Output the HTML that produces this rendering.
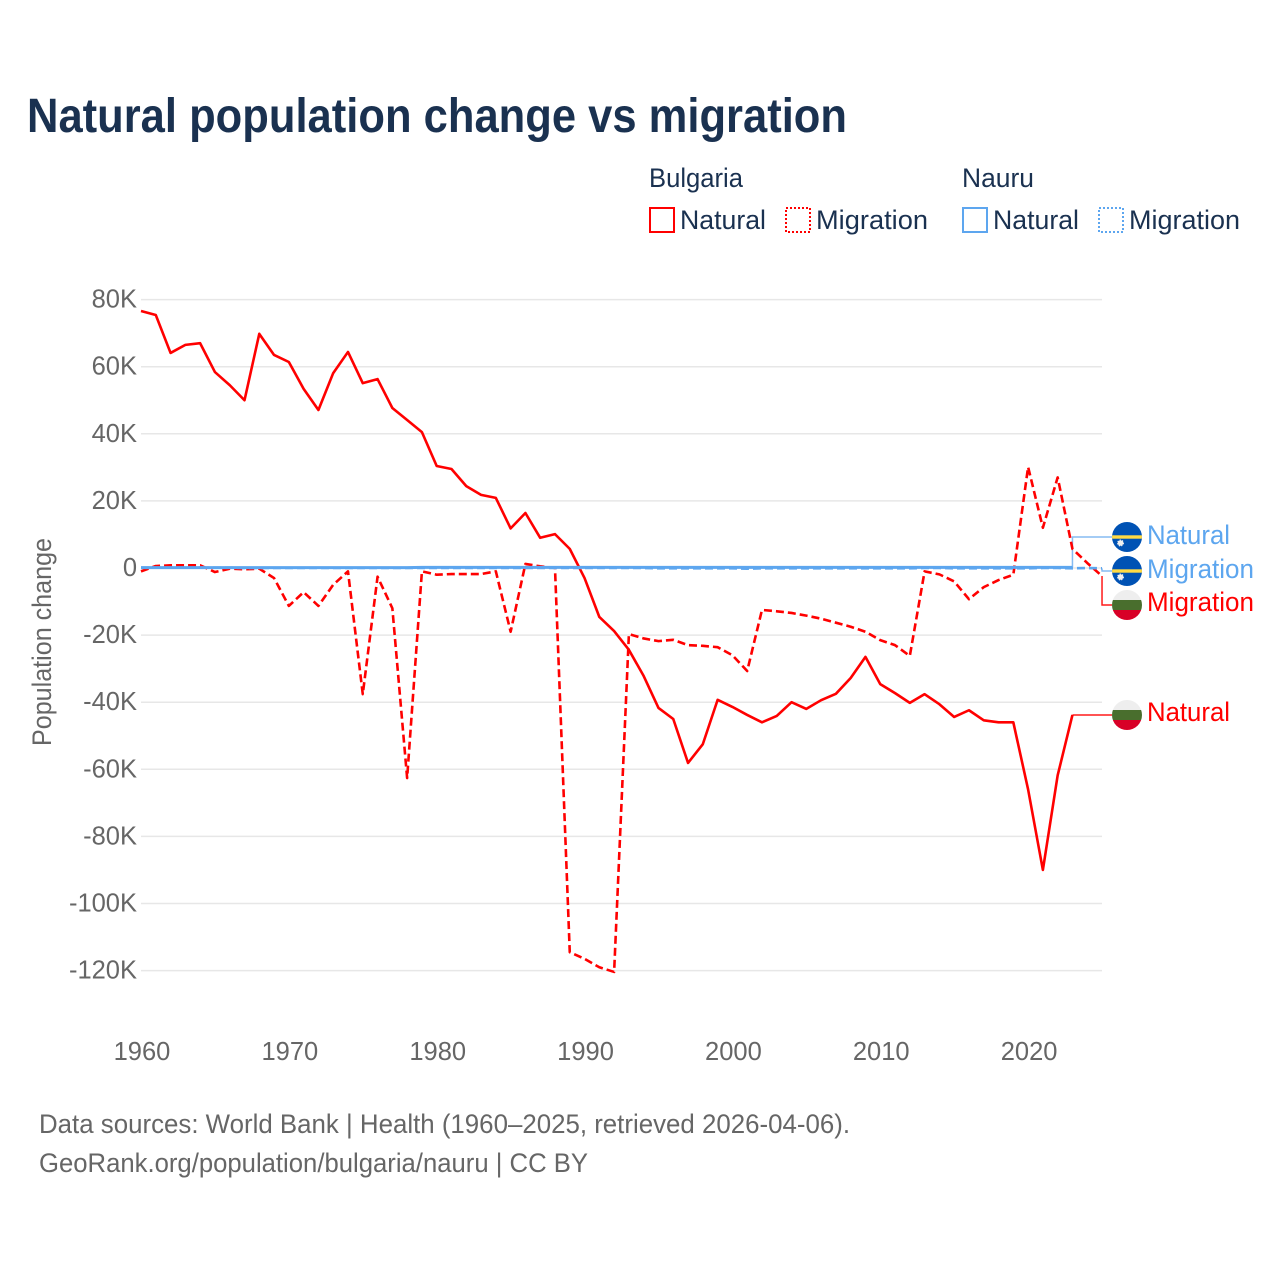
<!DOCTYPE html>
<html lang="en">
<head>
<meta charset="utf-8">
<title>Natural population change vs migration</title>
<style>
html,body{margin:0;padding:0;background:#fff;width:1280px;height:1280px;overflow:hidden}
svg{display:block;font-family:"Liberation Sans",sans-serif}
</style>
</head>
<body>
<svg id="chart" width="1280" height="1280" viewBox="0 0 1280 1280" xmlns="http://www.w3.org/2000/svg">
  <defs>
    <clipPath id="flag-clip"><circle cx="0" cy="0" r="15"/></clipPath>
  </defs>
  <rect width="1280" height="1280" fill="#fff"/>
  <text x="27" y="132" font-size="48" font-weight="700" fill="#1a3150" textLength="820" lengthAdjust="spacingAndGlyphs">Natural population change vs migration</text>

  <g font-size="26.5" fill="#1a3150">
    <text x="649" y="187" textLength="94" lengthAdjust="spacingAndGlyphs">Bulgaria</text>
    <text x="962" y="187" textLength="72" lengthAdjust="spacingAndGlyphs">Nauru</text>
    <g>
      <rect x="650" y="208" width="24" height="24" fill="none" stroke="#ff0000" stroke-width="2"/>
      <text x="680" y="229" textLength="86" lengthAdjust="spacingAndGlyphs">Natural</text>
    </g>
    <g>
      <rect x="786" y="208" width="24" height="24" fill="none" stroke="#ff0000" stroke-width="2" stroke-dasharray="2 2"/>
      <text x="816" y="229" textLength="112" lengthAdjust="spacingAndGlyphs">Migration</text>
    </g>
    <g>
      <rect x="963" y="208" width="24" height="24" fill="none" stroke="#5da6ef" stroke-width="2"/>
      <text x="993" y="229" textLength="86" lengthAdjust="spacingAndGlyphs">Natural</text>
    </g>
    <g>
      <rect x="1099" y="208" width="24" height="24" fill="none" stroke="#5da6ef" stroke-width="2" stroke-dasharray="2 2"/>
      <text x="1129" y="229" textLength="111" lengthAdjust="spacingAndGlyphs">Migration</text>
    </g>
  </g>

  <g id="grid"></g>
  <g id="y-ticks"></g>
  <g id="x-ticks"></g>
  <text transform="translate(51,642) rotate(-90)" text-anchor="middle" font-size="26.5" fill="#666" textLength="208" lengthAdjust="spacingAndGlyphs">Population change</text>
  <g id="connectors"></g>
  <g id="series"></g>

  <g transform="translate(1127,537)">
    <g clip-path="url(#flag-clip)">
      <rect x="-15" y="-15" width="30" height="30" fill="#0052b4"/>
      <rect x="-15" y="-1.7" width="30" height="3.4" fill="#ffda44"/>
      <circle cx="-6.5" cy="6" r="2.8" fill="#f0f0f0" stroke="#f0f0f0" stroke-width="1.4" stroke-dasharray="1.2 1.2"/>
    </g>
  </g>
  <g transform="translate(1127,571)">
    <g clip-path="url(#flag-clip)">
      <rect x="-15" y="-15" width="30" height="30" fill="#0052b4"/>
      <rect x="-15" y="-1.7" width="30" height="3.4" fill="#ffda44"/>
      <circle cx="-6.5" cy="6" r="2.8" fill="#f0f0f0" stroke="#f0f0f0" stroke-width="1.4" stroke-dasharray="1.2 1.2"/>
    </g>
  </g>
  <g transform="translate(1127,605)">
    <g clip-path="url(#flag-clip)">
      <rect x="-15" y="-15" width="30" height="10" fill="#eeeeee"/>
      <rect x="-15" y="-5" width="30" height="10" fill="#496e2d"/>
      <rect x="-15" y="5" width="30" height="10" fill="#d80027"/>
    </g>
  </g>
  <g transform="translate(1127,715)">
    <g clip-path="url(#flag-clip)">
      <rect x="-15" y="-15" width="30" height="10" fill="#eeeeee"/>
      <rect x="-15" y="-5" width="30" height="10" fill="#496e2d"/>
      <rect x="-15" y="5" width="30" height="10" fill="#d80027"/>
    </g>
  </g>

  <g font-size="26.5">
    <text x="1147" y="544" fill="#5da6ef" textLength="83" lengthAdjust="spacingAndGlyphs">Natural</text>
    <text x="1147" y="578" fill="#5da6ef" textLength="107" lengthAdjust="spacingAndGlyphs">Migration</text>
    <text x="1147" y="611" fill="#ff0000" textLength="107" lengthAdjust="spacingAndGlyphs">Migration</text>
    <text x="1147" y="721" fill="#ff0000" textLength="83" lengthAdjust="spacingAndGlyphs">Natural</text>
  </g>

  <g font-size="26.5" fill="#666">
    <text x="39" y="1133" textLength="811" lengthAdjust="spacingAndGlyphs">Data sources: World Bank | Health (1960–2025, retrieved 2026-04-06).</text>
    <text x="39" y="1172" textLength="549" lengthAdjust="spacingAndGlyphs">GeoRank.org/population/bulgaria/nauru | CC BY</text>
  </g>
</svg>

<script>
// Chart data, values in thousands of people; first value is year 1960.
const yTickValues = [80, 60, 40, 20, 0, -20, -40, -60, -80, -100, -120];
const yTickLabels = ["80K", "60K", "40K", "20K", "0", "-20K", "-40K", "-60K", "-80K", "-100K", "-120K"];
const xTickYears = [1960, 1970, 1980, 1990, 2000, 2010, 2020];
const bulgariaNatural = [76.6,75.4,64.1,66.5,67,58.4,54.5,50,69.8,63.5,61.4,53.4,47.1,58.1,64.4,55.1,56.3,47.7,44.1,40.5,30.4,29.5,24.4,21.8,20.9,11.8,16.4,9,10.1,5.7,-3,-14.6,-18.8,-24.4,-32.2,-41.7,-45,-58.1,-52.5,-39.3,-41.4,-43.8,-46,-44.1,-40,-42,-39.4,-37.5,-32.8,-26.5,-34.6,-37.3,-40.2,-37.6,-40.6,-44.4,-42.4,-45.4,-46,-46,-66,-90,-61.8,-43.8];
const bulgariaMigration = [-1,0.6,0.8,0.8,0.8,-1.2,-0.2,-0.4,-0.2,-3,-11.3,-7.2,-11.3,-5,-1,-37.6,-2.6,-12,-62.6,-1,-2,-1.8,-1.8,-1.8,-1,-19,1.2,0.5,0,-114.5,-116.5,-119,-120.4,-19.7,-21,-21.8,-21.4,-23,-23.2,-23.6,-26,-30.7,-12.5,-12.9,-13.4,-14.2,-15.1,-16.3,-17.5,-19,-21.5,-23,-26.2,-1,-1.9,-4,-9.3,-5.7,-3.6,-2,30.1,12,27,5.7,1.5,-2.4];
const nauruNatural = [0.1,0.1,0.1,0.1,0.1,0.1,0.1,0.1,0.1,0.1,0.1,0.1,0.1,0.1,0.1,0.1,0.1,0.1,0.1,0.2,0.2,0.2,0.2,0.2,0.2,0.2,0.2,0.2,0.2,0.2,0.2,0.2,0.2,0.2,0.2,0.2,0.2,0.2,0.2,0.2,0.2,0.2,0.2,0.2,0.2,0.2,0.2,0.2,0.2,0.2,0.2,0.2,0.2,0.2,0.2,0.2,0.2,0.2,0.2,0.2,0.2,0.2,0.2,0.2];
const nauruMigration = [0.1,0.1,0.1,0.1,0.1,0.1,0.1,0,0,0,0,0,0,0,0,0,0,0,0,0,0,0,0,0,0,0,0,0,0,0,0,0,0,0,0,-0.1,-0.1,-0.1,-0.1,-0.1,-0.1,-0.2,-0.1,-0.1,-0.1,-0.1,-0.1,-0.1,-0.1,-0.1,-0.1,-0.1,-0.1,0,0,-0.1,-0.1,-0.1,-0.1,-0.1,-0.1,0,0,-0.1,0,-0.1];

const NS = "http://www.w3.org/2000/svg";
const x = year => 141 + (year - 1960) * 14.785;
const y = value => 568 - value * 3.355;

function svgEl(tag, parent, attrs) {
  const el = document.createElementNS(NS, tag);
  for (const k in attrs) el.setAttribute(k, attrs[k]);
  parent.appendChild(el);
  return el;
}

const gridG = document.getElementById("grid");
const yG = document.getElementById("y-ticks");
yTickValues.forEach((v, i) => {
  const line = svgEl("line", gridG, {x1: 141, x2: 1102, y1: y(v), y2: y(v), stroke: "#e7e7e7", "stroke-width": 1.5});
  
  
  const t = svgEl("text", yG, {x: 137, y: y(v) + 8, "text-anchor": "end", "font-size": 25.5, fill: "#666"});
  
  
  t.textContent = yTickLabels[i];
});

const xG = document.getElementById("x-ticks");
xTickYears.forEach(year => {
  const t = svgEl("text", xG, {x: x(year) + 1, y: 1060, "text-anchor": "middle", "font-size": 25.5, fill: "#666"});
  
  
  t.textContent = year;
});

function seriesPoints(values) {
  return values.map((v, i) => x(1960 + i).toFixed(2) + "," + y(v).toFixed(2)).join(" ");
}
function lastPoint(values) {
  const i = values.length - 1;
  return [x(1960 + i), y(values[i])];
}

const connG = document.getElementById("connectors");
function connector(values, labelY, color, name) {
  const p = lastPoint(values);
  const c = svgEl("polyline", connG, {
    points: p[0] + "," + p[1] + " " + p[0] + "," + labelY + " 1112," + labelY,
    fill: "none", stroke: color, "stroke-width": 1.5
  });
  
  
}
connector(nauruNatural, 537, "#85bbf2", "connector-nauru-natural");
connector(nauruMigration, 571, "#85bbf2", "connector-nauru-migration");
connector(bulgariaMigration, 605, "#ff1a1a", "connector-bulgaria-migration");
connector(bulgariaNatural, 715, "#ff1a1a", "connector-bulgaria-natural");

const seriesG = document.getElementById("series");
const lineBN = svgEl("polyline", seriesG, {points: seriesPoints(bulgariaNatural), fill: "none", stroke: "#ff0000", "stroke-width": 2.6, "stroke-linejoin": "round"});


const lineBM = svgEl("polyline", seriesG, {points: seriesPoints(bulgariaMigration), fill: "none", stroke: "#ff0000", "stroke-width": 2.6, "stroke-dasharray": "8 4", "stroke-linejoin": "round"});


const lineNM = svgEl("polyline", seriesG, {points: seriesPoints(nauruMigration), fill: "none", stroke: "#5da6ef", "stroke-width": 2.6, "stroke-dasharray": "8 4"});


const lineNN = svgEl("polyline", seriesG, {points: seriesPoints(nauruNatural), fill: "none", stroke: "#5da6ef", "stroke-width": 3});


</script>
</body>
</html>
